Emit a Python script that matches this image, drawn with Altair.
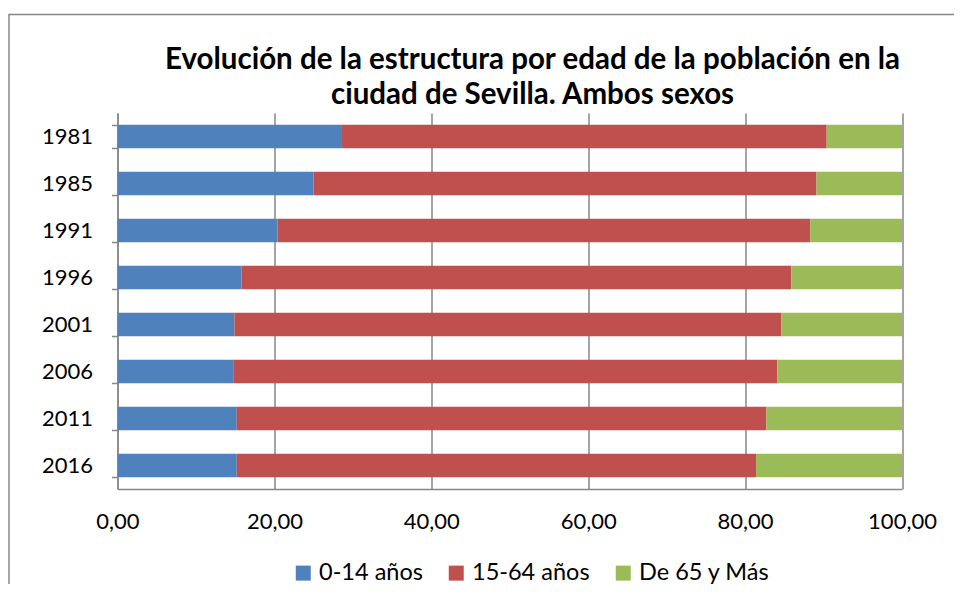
import altair as alt
import pandas as pd

years = ["1981", "1985", "1991", "1996", "2001", "2006", "2011", "2016"]
g0_14 = [28.5, 25.0, 20.4, 15.8, 14.9, 14.75, 15.2, 15.2]
g15_64 = [61.9, 64.1, 67.9, 70.1, 69.7, 69.35, 67.5, 66.2]
g65 = [9.6, 10.9, 11.7, 14.1, 15.4, 15.9, 17.3, 18.6]
groups = ["0-14 años", "15-64 años", "De 65 y Más"]
colors = ["#4F81BD", "#C0504D", "#9BBB59"]
x_ticks = [0, 20, 40, 60, 80, 100]
title_lines = ["Evolución de la estructura por edad de la población en la",
               "ciudad de Sevilla. Ambos sexos"]

rows = []
for i, y in enumerate(years):
    for k, (g, vals) in enumerate(zip(groups, [g0_14, g15_64, g65])):
        rows.append({"year": y, "group": g, "value": vals[i], "order": k})
df = pd.DataFrame(rows)

W, H = 784.5, 376
GRAY = "#878787"
FONT = "Lato"

bars = alt.Chart(df).mark_bar().encode(
    x=alt.X("value:Q", stack="zero",
            scale=alt.Scale(domain=[0, 100], nice=False),
            axis=alt.Axis(values=x_ticks, title=None, grid=True, gridColor=GRAY,
                          gridWidth=1.5, ticks=False, domainColor=GRAY, domainWidth=1.5,
                          labelExpr="replace(format(datum.value, '.2f'), '.', ',')",
                          labelFont=FONT, labelFontSize=22, labelColor="#000000",
                          labelPadding=22, labelFlush=False, labelOverlap=False)),
    y=alt.Y("year:N", sort=years,
            scale=alt.Scale(paddingInner=0.5, paddingOuter=0.25),
            axis=alt.Axis(title=None, tickBand="extent", ticks=True, tickSize=6,
                          tickColor=GRAY, tickWidth=1.5, domainColor=GRAY, domainWidth=1.5,
                          labelFont=FONT, labelFontSize=22, labelColor="#000000",
                          labelPadding=19, grid=False)),
    color=alt.Color("group:N", sort=groups,
                    scale=alt.Scale(domain=groups, range=colors),
                    legend=alt.Legend(title=None, orient="none", direction="horizontal",
                                      legendX=174, legendY=448,
                                      symbolType="square", symbolSize=225,
                                      symbolStrokeWidth=0, labelFont=FONT,
                                      labelFontSize=23.5, labelColor="#000000",
                                      columnPadding=21, labelOffset=4)),
    order=alt.Order("order:Q"),
)

title_mark = alt.Chart(pd.DataFrame({"t": ["\n".join(title_lines)]})).mark_text(
    font=FONT, fontSize=29.5, fontWeight="bold", color="#000000",
    lineBreak="\n", lineHeight=35, align="center", baseline="alphabetic",
).encode(text="t:N", x=alt.value(415), y=alt.value(-44))

frame = alt.Chart(pd.DataFrame({"a": [0]})).mark_rect(
    fill=None, stroke=GRAY, strokeWidth=1.5
).encode(
    x=alt.value(-108.5), x2=alt.value(W + 120),
    y=alt.value(-98.5), y2=alt.value(H + 150),
)

chart = alt.layer(frame, bars, title_mark).properties(
    width=W, height=H,
    autosize=alt.AutoSizeParams(type="none"),
    padding={"left": 109.5, "top": 105, "right": 52, "bottom": 95},
).configure_view(stroke=None)

chart.save("out.html", embed_options={"renderer": "svg", "actions": False})
